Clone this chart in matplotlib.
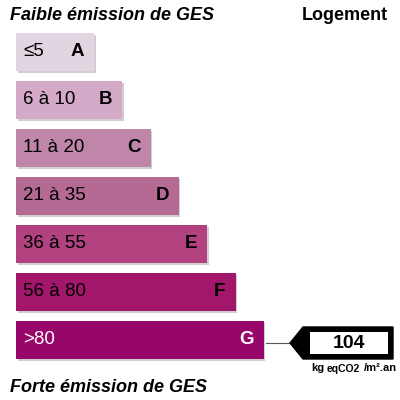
import matplotlib
matplotlib.use("Agg")
import matplotlib.pyplot as plt
from matplotlib.patches import Polygon, Rectangle

plt.rcParams['font.family'] = ['Liberation Sans', 'DejaVu Sans']

# classes GES (du meilleur au pire)
classes = ['A', 'B', 'C', 'D', 'E', 'F', 'G']
ranges = ['≤5', '6 à 10', '11 à 20', '21 à 35', '36 à 55', '56 à 80', '>80']
colors = ['#e1d5e2', '#d5a9c8', '#c086aa', '#b56a94', '#b1417f', '#a2166b', '#99066a']
text_colors = ['black', 'black', 'black', 'black', 'black', 'black', 'white']

value = 104
value_class = 'G'
unit_main = 'kg'
unit_sub = 'eqCO2'
unit_end = '/m².an'

title_top = 'Faible émission de GES'
title_bottom = 'Forte émission de GES'
title_right = 'Logement'

fig = plt.figure(figsize=(4, 4), dpi=100)
ax = fig.add_axes([0, 0, 1, 1])
ax.set_xlim(0, 400)
ax.set_ylim(400, 0)
ax.axis('off')

x0 = 16
bar_h = 38
y_first = 52
step = 48
base_len = 78
len_step = 28.3

centers = [y_first + step * i for i in range(len(classes))]
lengths = [base_len + len_step * i for i in range(len(classes))]

for i, c in enumerate(classes):
    yc = centers[i]
    w = lengths[i]
    # petite ombre
    ax.add_patch(Rectangle((x0 + 1.5, yc - bar_h / 2 + 1.5), w, bar_h,
                           facecolor='#cfcfcf', edgecolor='none', zorder=1))
    ax.barh(yc, w, height=bar_h, left=x0, color=colors[i], zorder=2)
    ax.text(x0 + 7, yc, ranges[i], fontsize=13.5, color=text_colors[i],
            ha='left', va='center', zorder=3)
    ax.text(x0 + w - 10, yc, c, fontsize=13.5, fontweight='bold',
            color=text_colors[i], ha='right', va='center', zorder=3)

# titres
ax.text(10, 16, title_top, fontsize=13, fontweight='bold', fontstyle='italic',
        ha='left', va='center')
ax.text(388, 16, title_right, fontsize=13, fontweight='bold',
        ha='right', va='center')
ax.text(10, 387, title_bottom, fontsize=13, fontweight='bold', fontstyle='italic',
        ha='left', va='center')

# flèche avec la valeur
k = classes.index(value_class)
ya = centers[k] + 3
bar_end = x0 + lengths[k]
ax.plot([bar_end + 2, 290], [ya, ya], color='#555555', lw=0.8, zorder=2)
arrow = Polygon([(290, ya), (303, ya - 16), (393, ya - 16), (393, ya + 16),
                 (303, ya + 16)], closed=True, facecolor='black',
                edgecolor='black', zorder=3)
ax.add_patch(arrow)
ax.add_patch(Rectangle((310, ya - 11), 78, 22, facecolor='white',
                       edgecolor='none', zorder=4))
ax.text(349, ya + 0.5, str(value), fontsize=14, fontweight='bold',
        ha='center', va='center', zorder=5)

ax.text(311, 371, unit_main, fontsize=8, fontweight='bold', ha='left',
        va='baseline')
ax.text(326.5, 372, unit_sub, fontsize=7.5, fontweight='bold', ha='left',
        va='baseline')
ax.text(397, 371, unit_end, fontsize=8, fontweight='bold', ha='right',
        va='baseline')

fig.savefig('out.png', dpi=100)
